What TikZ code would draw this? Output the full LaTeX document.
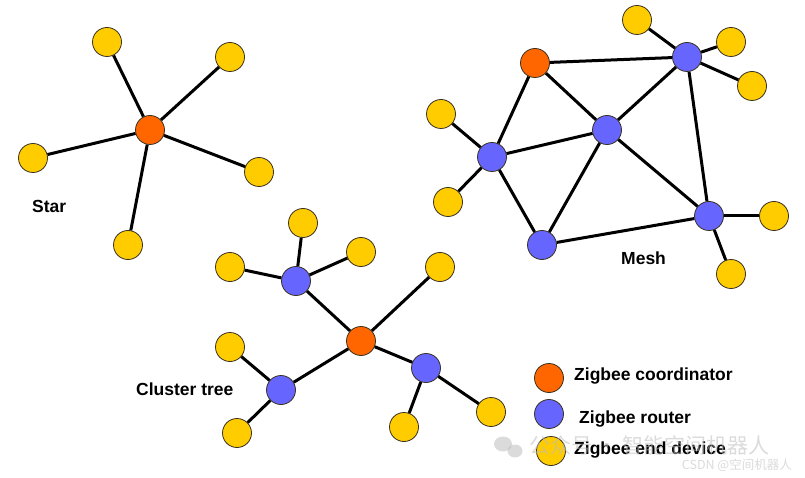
\documentclass[tikz,border=0pt]{standalone}
\usepackage{fontspec}
\setmainfont{Liberation Sans}
\newfontfamily\cjk{Noto Sans CJK SC}
\definecolor{zorange}{HTML}{FF6600}
\definecolor{zblue}{HTML}{6666FF}
\definecolor{zyellow}{HTML}{FFCC00}
\definecolor{zline}{HTML}{3A3020}
\definecolor{wmgrey}{HTML}{BDBDBD}
\begin{document}
\begin{tikzpicture}[x=1pt,y=-1pt,
  dot/.style={circle,draw=zline,line width=0.8pt,minimum size=29pt,inner sep=0pt},
  coord/.style={dot,fill=zorange},
  router/.style={dot,fill=zblue},
  enddev/.style={dot,fill=zyellow},
  link/.style={line width=3pt,black},
  lbl/.style={font=\bfseries\fontsize{17.5}{20}\selectfont,inner sep=0pt,anchor=base west},
  wm/.style={text=wmgrey,inner sep=0pt}]
\useasboundingbox (0,0) rectangle (805,478);
% ---------- Star ----------
\node[coord]  (sc) at (150,130) {};
\node[enddev] (s1) at (107,42) {};
\node[enddev] (s2) at (230,57) {};
\node[enddev] (s3) at (33,158) {};
\node[enddev] (s4) at (259,172) {};
\node[enddev] (s5) at (128,245) {};
\foreach \e in {s1,s2,s3,s4,s5} \draw[link] (sc) -- (\e);
\node[lbl] (starlbl) at (32,213) {Star};
% ---------- Mesh ----------
\node[coord]  (mc) at (535,63) {};
\node[router] (mtr) at (687,57) {};
\node[router] (mce) at (607,130) {};
\node[router] (mle) at (492,157) {};
\node[router] (mbo) at (542,245) {};
\node[router] (mri) at (709,216) {};
\node[enddev] (m1) at (637,20) {};
\node[enddev] (m2) at (731,42) {};
\node[enddev] (m3) at (752,86) {};
\node[enddev] (m4) at (441,114) {};
\node[enddev] (m5) at (448,202) {};
\node[enddev] (m6) at (774,216) {};
\node[enddev] (m7) at (731,274) {};
\draw[link] (mc) -- (mtr);
\draw[link] (mc) -- (mle);
\draw[link] (mc) -- (mce);
\draw[link] (mtr) -- (mce);
\draw[link] (mtr) -- (mri);
\draw[link] (mce) -- (mle);
\draw[link] (mce) -- (mbo);
\draw[link] (mce) -- (mri);
\draw[link] (mle) -- (mbo);
\draw[link] (mbo) -- (mri);
\draw[link] (mtr) -- (m1);
\draw[link] (mtr) -- (m2);
\draw[link] (mtr) -- (m3);
\draw[link] (mle) -- (m4);
\draw[link] (mle) -- (m5);
\draw[link] (mri) -- (m6);
\draw[link] (mri) -- (m7);
\node[lbl] (meshlbl) at (621,265) {Mesh};
% ---------- Cluster tree ----------
\node[coord]  (tc) at (361,341) {};
\node[router] (tt) at (296,281) {};
\node[router] (tl) at (281,390) {};
\node[router] (tr) at (426,368) {};
\node[enddev] (t1) at (303,223) {};
\node[enddev] (t2) at (230,267) {};
\node[enddev] (t3) at (361,252) {};
\node[enddev] (t4) at (440,267) {};
\node[enddev] (t5) at (230,347) {};
\node[enddev] (t6) at (237,433) {};
\node[enddev] (t7) at (404,427) {};
\node[enddev] (t8) at (491,412) {};
\draw[link] (tc) -- (tt);
\draw[link] (tc) -- (tl);
\draw[link] (tc) -- (tr);
\draw[link] (tc) -- (t4);
\draw[link] (tt) -- (t1);
\draw[link] (tt) -- (t2);
\draw[link] (tt) -- (t3);
\draw[link] (tl) -- (t5);
\draw[link] (tl) -- (t6);
\draw[link] (tr) -- (t7);
\draw[link] (tr) -- (t8);
\node[lbl] (treelbl) at (136,395) {Cluster tree};
% ---------- Legend ----------
\node[coord]  (lc) at (549,378) {};
\node[router] (lr) at (549,414) {};
\node[enddev] (le) at (551,451) {};
\node[lbl] (lct) at (574,380) {Zigbee coordinator};
\node[lbl] (lrt) at (579,423) {Zigbee router};
\node[lbl] (let) at (574,454) {Zigbee end device};
% ---------- Watermark ----------
\begin{scope}[opacity=0.55]
\fill[wmgrey] (503,444) ellipse (9pt and 7.5pt);
\fill[wmgrey] (515,451) ellipse (7.5pt and 6.5pt);
\node[wm,anchor=west,font=\cjk\fontsize{21}{24}\selectfont] (wm1) at (529,445) {公众号 · 智能空间机器人};
\node[wm,anchor=east,font=\cjk\fontsize{12.5}{14}\selectfont] (wm2) at (792,465) {CSDN @空间机器人};
\end{scope}
\end{tikzpicture}
\end{document}
